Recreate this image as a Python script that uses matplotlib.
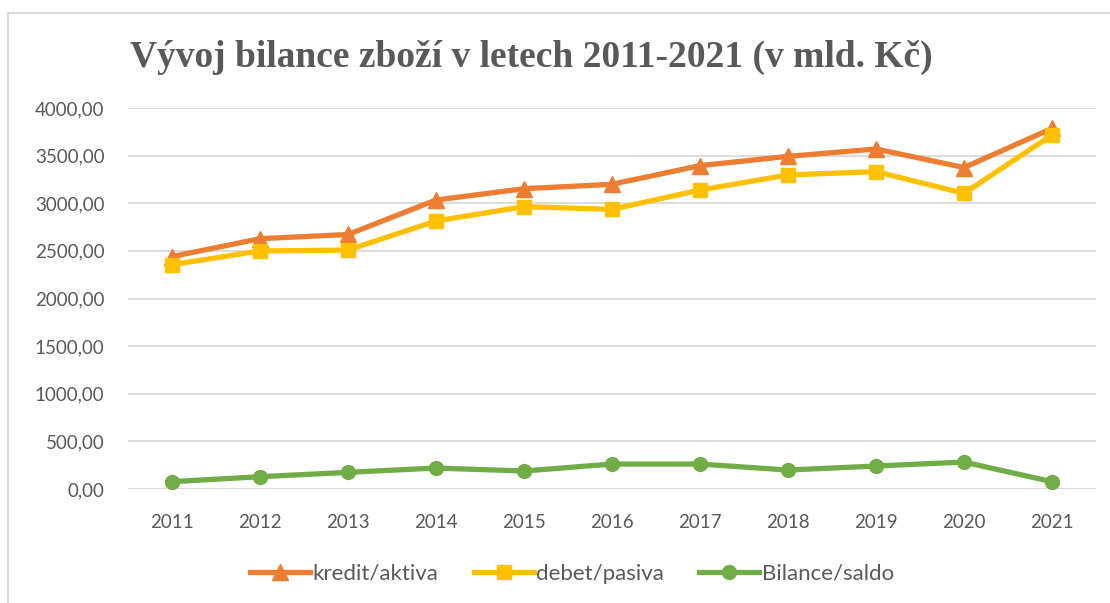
import matplotlib
matplotlib.use("Agg")
import matplotlib.pyplot as plt
from matplotlib.patches import Rectangle

years = ["2011", "2012", "2013", "2014", "2015", "2016", "2017", "2018", "2019", "2020", "2021"]
kredit = [2440, 2628, 2672, 3034, 3153, 3199, 3395, 3492, 3570, 3375, 3785]
debet = [2355, 2499, 2509, 2814, 2964, 2936, 3139, 3297, 3332, 3104, 3717]
bilance = [77, 129, 175, 220, 189, 262, 262, 199, 241, 283, 77]
yticks = [0, 500, 1000, 1500, 2000, 2500, 3000, 3500, 4000]

W, H = 1110, 603
fig = plt.figure(figsize=(W / 100, H / 100), dpi=100)
fig.patches.append(Rectangle((8 / W, -0.01), 1.02, 1.01 - 13 / H, transform=fig.transFigure,
                             fill=False, edgecolor="#d9d9d9", linewidth=1.5))

ax = fig.add_axes([128 / W, 1 - 489 / H, 968 / W, 381 / H])
x = list(range(len(years)))
ax.plot(x, kredit, color="#ed7d31", lw=3.8, marker="^", ms=11, label="kredit/aktiva", zorder=3)
ax.plot(x, debet, color="#ffc000", lw=3.8, marker="s", ms=10, label="debet/pasiva", zorder=3)
ax.plot(x, bilance, color="#70ad47", lw=3.8, marker="o", ms=10, label="Bilance/saldo", zorder=3)

ax.set_xlim(-0.5, len(years) - 0.5)
ax.set_ylim(0, 4000)
ax.set_yticks(yticks)
ax.set_yticklabels([f"{v},00" for v in yticks])
ax.set_xticks(x)
ax.set_xticklabels(years)
ax.grid(axis="y", color="#d9d9d9", lw=1.3)
ax.set_axisbelow(True)
for s in ax.spines.values():
    s.set_visible(False)
ax.tick_params(length=0, labelsize=13.5, labelcolor="#595959")
ax.tick_params(axis="y", pad=17)
ax.tick_params(axis="x", pad=18)
for lab in ax.get_xticklabels() + ax.get_yticklabels():
    lab.set_fontfamily("Lato")

fig.text(531 / W, 1 - 57 / H, "Vývoj bilance zboží v letech 2011-2021 (v mld. Kč)",
         ha="center", va="center", fontsize=27, fontweight="bold",
         family="Liberation Serif", color="#595959")

leg = fig.legend(loc="center", bbox_to_anchor=(572 / W, 1 - 574 / H), ncol=3, frameon=False,
                 prop={"family": "Lato", "size": 16}, handlelength=2.7, columnspacing=1.6,
                 handletextpad=0.1)
for t in leg.get_texts():
    t.set_color("#595959")

fig.savefig("out.png", dpi=100)
